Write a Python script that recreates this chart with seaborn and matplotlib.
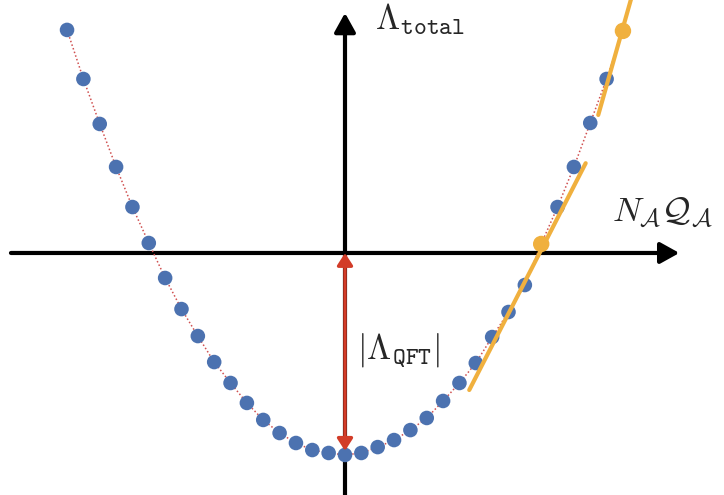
import numpy as np
import pandas as pd
import matplotlib
matplotlib.use("Agg")
import matplotlib.pyplot as plt
import seaborn as sns

# Data (x index, Lambda_total value)
x_vals = list(range(-17, 18))
y_vals = [13.64, 10.64, 7.89, 5.26, 2.81, 0.61, -1.53, -3.43, -5.08, -6.67,
          -7.95, -9.17, -10.21, -11.01, -11.62, -12.05, -12.23, -12.35,
          -12.23, -11.87, -11.44, -10.83, -10.09, -9.05, -7.95, -6.73,
          -5.14, -3.61, -1.96, 0.55, 2.81, 5.26, 7.95, 10.64, 13.58]
highlight_x = [12, 17]
highlight_y = [0.55, 13.58]
# tangent segments (endpoints)
tan1_x = [7.60, 14.72]
tan1_y = [-8.38, 5.49]
tan2_x = [15.49, 17.6]
tan2_y = [8.44, 15.9]
qft_value = -12.35

sns.set_style("white")
plt.rcParams["mathtext.fontset"] = "cm"

df = pd.DataFrame({"x": x_vals, "y": y_vals})
hl = pd.DataFrame({"x": highlight_x, "y": highlight_y})

fig = plt.figure(figsize=(7.24, 4.95), dpi=100)
ax = fig.add_axes([0, 0, 1, 1])
ax.set_xlim(-21.1, 23.18)
ax.set_ylim(-14.80, 15.47)
ax.axis("off")

blue = "#4c72b0"
orange = "#f0b03e"
red = "#d23c28"

# axes arrows
ax.annotate("", xy=(20.45, 0), xytext=(-20.43, 0),
            arrowprops=dict(arrowstyle="-|>,head_length=0.72,head_width=0.4",
                            lw=3, color="black", shrinkA=0, shrinkB=0,
                            mutation_scale=16))
ax.annotate("", xy=(0, 14.68), xytext=(0, -14.9),
            arrowprops=dict(arrowstyle="-|>,head_length=0.72,head_width=0.4",
                            lw=3, color="black", shrinkA=0, shrinkB=0,
                            mutation_scale=16))

# dotted red line through points
sns.lineplot(data=df, x="x", y="y", ax=ax, color="#d05050", lw=1.1,
             linestyle=(0, (1, 1.5)), zorder=3)
sns.scatterplot(data=df, x="x", y="y", ax=ax, color=blue, s=110,
                edgecolor="none", zorder=4)

# tangent lines
sns.lineplot(x=tan1_x, y=tan1_y, ax=ax, color=orange, lw=3, zorder=5)
sns.lineplot(x=tan2_x, y=tan2_y, ax=ax, color=orange, lw=3, zorder=5)
sns.scatterplot(data=hl, x="x", y="y", ax=ax, color=orange, s=140,
                edgecolor="none", zorder=6)

# red double arrow |Lambda_QFT|
ax.annotate("", xy=(0, 0), xytext=(0, qft_value + 0.25),
            arrowprops=dict(arrowstyle="<|-|>,head_length=0.45,head_width=0.29",
                            lw=2.5, color=red, shrinkA=0, shrinkB=0,
                            mutation_scale=16), zorder=5)

ax.text(1.83, 13.70, r"$\Lambda_{\mathtt{total}}$", fontsize=25,
        ha="left", va="baseline")
ax.text(16.33, 1.96, r"$N_{\mathcal{A}}\mathcal{Q}_{\mathcal{A}}$", fontsize=25,
        ha="left", va="baseline")
ax.text(0.73, -5.99, r"$|\Lambda_{\mathtt{QFT}}|$", fontsize=25,
        ha="left", va="center")

ax.set_xlabel("")
ax.set_ylabel("")
fig.savefig("out.png", dpi=100)
